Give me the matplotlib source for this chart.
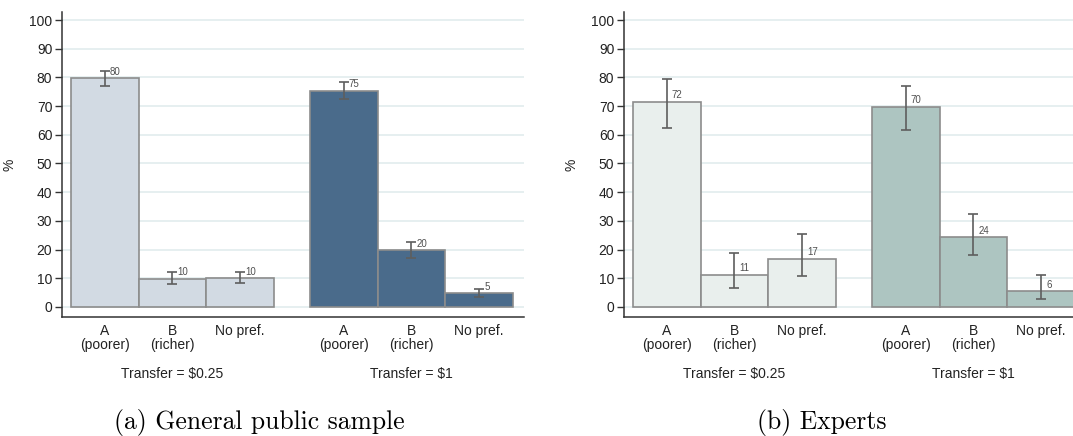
import matplotlib
matplotlib.use("Agg")
import matplotlib.pyplot as plt
import numpy as np

plt.rcParams['font.family'] = ['Liberation Sans', 'DejaVu Sans']

categories = ["A\n(poorer)", "B\n(richer)", "No pref."]
groups = ["Transfer = $0.25", "Transfer = $1"]

# Panel (a): General public sample
pub_low = [79.7, 9.9, 10.0]
pub_low_lo = [77.1, 8.1, 8.3]
pub_low_hi = [82.4, 12.2, 12.3]
pub_high = [75.3, 19.7, 4.7]
pub_high_lo = [72.4, 17.2, 3.5]
pub_high_hi = [78.3, 22.6, 6.4]
pub_labels_low = ["80", "10", "10"]
pub_labels_high = ["75", "20", "5"]

# Panel (b): Experts
exp_low = [71.4, 11.2, 16.8]
exp_low_lo = [62.3, 6.5, 10.8]
exp_low_hi = [79.6, 18.9, 25.3]
exp_high = [69.7, 24.3, 5.5]
exp_high_lo = [61.6, 18.0, 2.9]
exp_high_hi = [76.9, 32.3, 11.0]
exp_labels_low = ["72", "11", "17"]
exp_labels_high = ["70", "24", "6"]

captions = ["(a) General public sample", "(b) Experts"]

W, H = 1073, 436
fig = plt.figure(figsize=(W / 100, H / 100), dpi=100)
fig.patch.set_facecolor("white")

gap = 0.53
pos_low = np.arange(3)
pos_high = np.arange(3) + 3 + gap
xmin, xmax = -0.632, 6.19
ymin, ymax = -3.5, 102.8


def panel(left_px, vals, caption, cap_x):
    (lv, llo, lhi, lt, hv, hlo, hhi, ht, c_low, c_high) = vals
    width_px = (xmax - xmin) * 67.7
    ax = fig.add_axes([left_px / W, (H - 317) / H, width_px / W, 305 / H])
    ax.set_xlim(xmin, xmax)
    ax.set_ylim(ymin, ymax)
    ax.set_yticks(np.arange(0, 101, 10))
    ax.grid(axis="y", color="#E6EFF0", linewidth=1.4, zorder=0)
    ax.set_axisbelow(True)
    for pos, v, lo, hi, lab, col in [(pos_low, lv, llo, lhi, lt, c_low),
                                     (pos_high, hv, hlo, hhi, ht, c_high)]:
        ax.bar(pos, v, width=1.0, color=col, edgecolor="#8C8C8C",
               linewidth=1.2, zorder=2)
        v = np.array(v)
        yerr = np.vstack([v - np.array(lo), np.array(hi) - v])
        ax.errorbar(pos, v, yerr=yerr, fmt="none", ecolor="#5E5E5E",
                    elinewidth=1.2, capsize=3.5, capthick=1.2, zorder=3)
        for x, y, t in zip(pos, v, lab):
            ax.annotate(t, (x, y + 2.3), xytext=(3.6, 0),
                        textcoords="offset points", ha="left", va="center",
                        fontsize=7, color="#505050", zorder=4)
    ax.set_xticks(list(pos_low) + list(pos_high))
    ax.set_xticklabels(categories * 2, fontsize=10, color="#222222",
                       linespacing=1.05)
    ax.tick_params(axis="x", length=0, pad=5)
    ax.tick_params(axis="y", length=5, width=1, color="#333333",
                   labelsize=10, labelcolor="#222222", pad=2)
    for s in ["top", "right"]:
        ax.spines[s].set_visible(False)
    for s in ["left", "bottom"]:
        ax.spines[s].set_color("#333333")
        ax.spines[s].set_linewidth(1.1)
    ax.set_ylabel("%", fontsize=10, color="#222222")
    ax.yaxis.set_label_coords(-45 / width_px, 0.5)
    for gx, g in zip([pos_low[1], pos_high[1]], groups):
        ax.text(gx, -23.5, g, ha="center", va="center", fontsize=10,
                color="#222222")
    fig.text(cap_x / W, 1 - 422 / H, caption, ha="center", va="center",
             fontsize=18.5, family="cmr10")
    return ax


panel(62, (pub_low, pub_low_lo, pub_low_hi, pub_labels_low,
           pub_high, pub_high_lo, pub_high_hi, pub_labels_high,
           "#D2DAE3", "#4A6B8B"), captions[0], 259)
panel(624, (exp_low, exp_low_lo, exp_low_hi, exp_labels_low,
            exp_high, exp_high_lo, exp_high_hi, exp_labels_high,
            "#E9EFED", "#ADC5C1"), captions[1], 822)

fig.savefig("out.png", dpi=100, facecolor="white")
